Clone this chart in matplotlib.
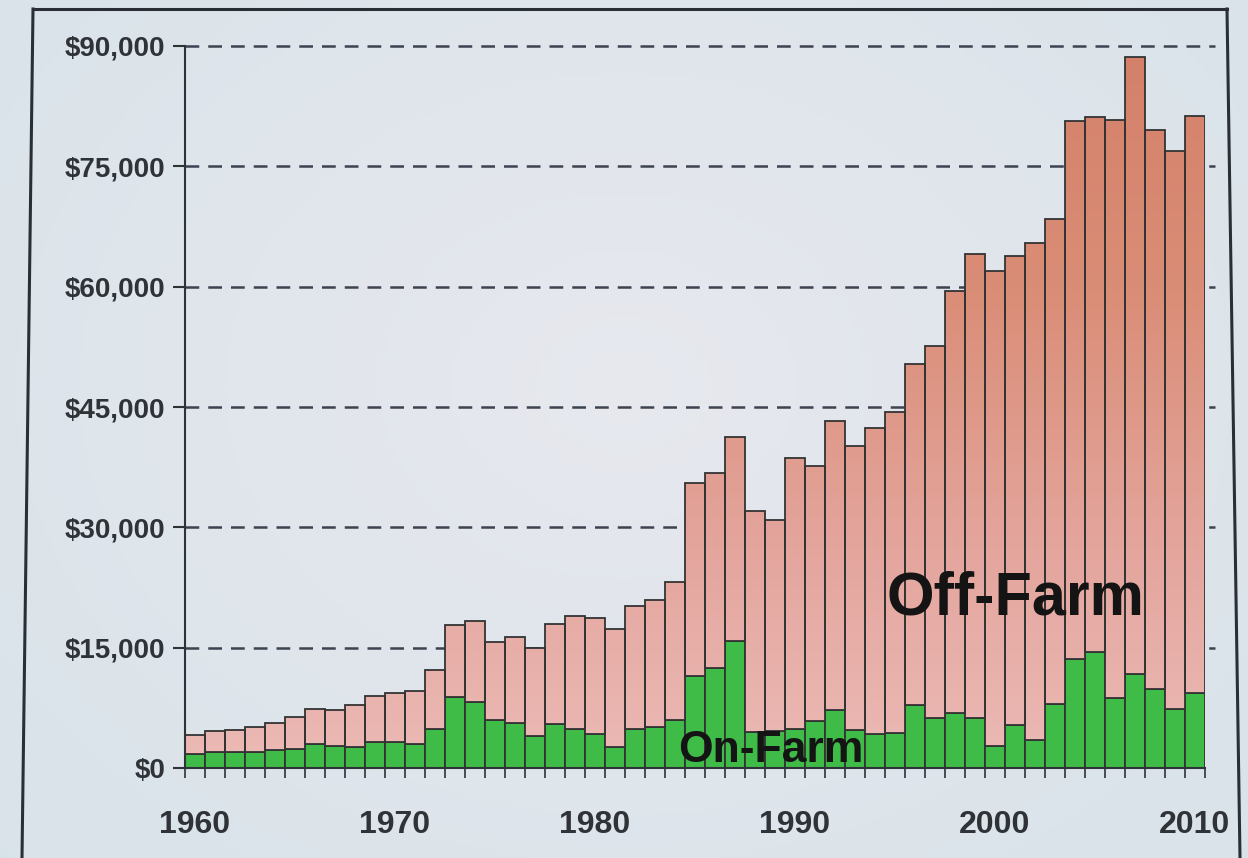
import numpy as np
import matplotlib
matplotlib.use('Agg')
import matplotlib.pyplot as plt
from matplotlib import font_manager
from matplotlib.colors import LinearSegmentedColormap
from matplotlib.lines import Line2D

# ---------------- data ----------------
years = list(range(1960, 2011))
total_income = [4100, 4600, 4700, 5100, 5600, 6300, 7300, 7200, 7800, 9000,
                9400, 9600, 12200, 17800, 18300, 15700, 16300, 14900, 17900, 18900,
                18700, 17300, 20200, 21000, 23200, 35500, 36800, 41200, 32000, 30900,
                38600, 37600, 43200, 40200, 42400, 44400, 50300, 52600, 59500, 64100,
                61900, 63800, 65400, 68400, 80700, 81100, 80800, 88600, 79500, 76900,
                81300]
on_farm = [1800, 2000, 2000, 2000, 2200, 2400, 3000, 2700, 2600, 3300,
           3300, 3000, 4800, 8900, 8200, 6000, 5600, 4000, 5500, 4900,
           4300, 2600, 4900, 5100, 6000, 11500, 12500, 15800, 4500, 4600,
           4800, 5800, 7200, 4700, 4300, 4400, 7800, 6200, 6900, 6200,
           2700, 5400, 3500, 8000, 13600, 14400, 8700, 11700, 9900, 7300,
           9300]
y_ticks = [0, 15000, 30000, 45000, 60000, 75000, 90000]
x_label_years = [1960, 1970, 1980, 1990, 2000, 2010]

off_farm = [t - o for t, o in zip(total_income, on_farm)]

# ---------------- fonts ----------------
avail = {f.name for f in font_manager.fontManager.ttflist}
base_font = 'Liberation Sans' if 'Liberation Sans' in avail else 'DejaVu Sans'
narrow_font = 'Liberation Sans Narrow' if 'Liberation Sans Narrow' in avail else base_font
plt.rcParams['font.family'] = [base_font, 'DejaVu Sans']

W, H = 1248, 858
fig = plt.figure(figsize=(W / 100, H / 100), dpi=100)

# background (soft radial gradient)
bg = fig.add_axes([0, 0, 1, 1], zorder=-10)
yy, xx = np.mgrid[0:1:200j, 0:1:300j]
r = np.sqrt(((xx - 0.5) / 0.7) ** 2 + ((yy - 0.55) / 0.8) ** 2)
c_in = np.array([0.905, 0.912, 0.935])
c_out = np.array([0.850, 0.890, 0.915])
t = np.clip(r, 0, 1)[..., None]
img = c_in * (1 - t) + c_out * t
bg.imshow(img, extent=(0, 1, 0, 1), aspect='auto', origin='lower')
bg.set_xlim(0, 1)
bg.set_ylim(0, 1)
bg.axis('off')

# outer slide frame
frame_col = '#2a2f36'
fig.add_artist(Line2D([33 / W, 1227 / W], [1 - 9 / H, 1 - 9 / H], transform=fig.transFigure,
                      color=frame_col, lw=2.2))
fig.add_artist(Line2D([33 / W, 22 / W], [1 - 9 / H, 0], transform=fig.transFigure,
                      color=frame_col, lw=2.2))
fig.add_artist(Line2D([1227 / W, 1240 / W], [1 - 9 / H, 0], transform=fig.transFigure,
                      color=frame_col, lw=2.2))

ax_left, ax_right, ax_bottom, ax_top = 185, 1205, 768, 46
ax = fig.add_axes([ax_left / W, 1 - ax_bottom / H, (ax_right - ax_left) / W,
                   (ax_bottom - ax_top) / H])
ax.set_facecolor('none')

x = np.arange(len(years))
edge = '#333333'

# gridlines
for yv in y_ticks[1:]:
    ax.plot([-0.5, 51.0], [yv, yv], color='#3d4350', lw=1.8,
            dashes=(5.5, 3.6), zorder=1, clip_on=False, solid_capstyle='butt')

# bars
green_bars = ax.bar(x, on_farm, width=1.0, color='#3fbc48', edgecolor=edge,
                    linewidth=1.3, zorder=3)
off_bars = ax.bar(x, off_farm, bottom=on_farm, width=1.0, color='none',
                  edgecolor=edge, linewidth=1.3, zorder=4)

cmap = LinearSegmentedColormap.from_list('off', ['#ecbab6', '#e3a39a', '#da8d76', '#d4806a'])
grad = np.linspace(0, 1, 256).reshape(-1, 1)
for b in off_bars:
    im = ax.imshow(grad, cmap=cmap, aspect='auto', extent=(-0.5, 50.5, 0, 90000),
                   origin='lower', zorder=3, interpolation='bilinear')
    im.set_clip_path(b)

ax.set_xlim(-0.5, 50.5)
ax.set_ylim(0, 90000)

# spines
for s in ['top', 'right']:
    ax.spines[s].set_visible(False)
for s in ['left', 'bottom']:
    ax.spines[s].set_color('#2f3338')
    ax.spines[s].set_linewidth(1.5)
    ax.spines[s].set_zorder(5)

# y ticks
ax.set_yticks(y_ticks)
ax.set_yticklabels(['$' + format(v, ',') for v in y_ticks])
ax.tick_params(axis='y', length=9, width=1.5, color='#2f3338', pad=5,
               labelsize=20, labelcolor='#2f3338')
for lab in ax.get_yticklabels():
    lab.set_fontweight('bold')

# x ticks
ax.set_xticks([years.index(yv) for yv in x_label_years])
ax.set_xticklabels([str(yv) for yv in x_label_years])
ax.set_xticks(np.arange(-0.5, 51, 1.0), minor=True)
ax.tick_params(axis='x', which='major', length=0, pad=30, labelsize=23,
               labelcolor='#2f3338')
ax.tick_params(axis='x', which='minor', length=7, width=1.2, color='#2f3338')
for lab in ax.get_xticklabels():
    lab.set_fontweight('bold')
    lab.set_family([narrow_font, base_font, 'DejaVu Sans'])

# annotations
ax.text(41.0, 19100, 'Off-Farm', ha='center', va='baseline', fontsize=44,
        fontweight='bold', color='#141414', zorder=6)
ax.text(28.8, 750, 'On-Farm', ha='center', va='baseline', fontsize=32,
        fontweight='bold', color='#141414', zorder=6)

fig.savefig('out.png', dpi=100)
